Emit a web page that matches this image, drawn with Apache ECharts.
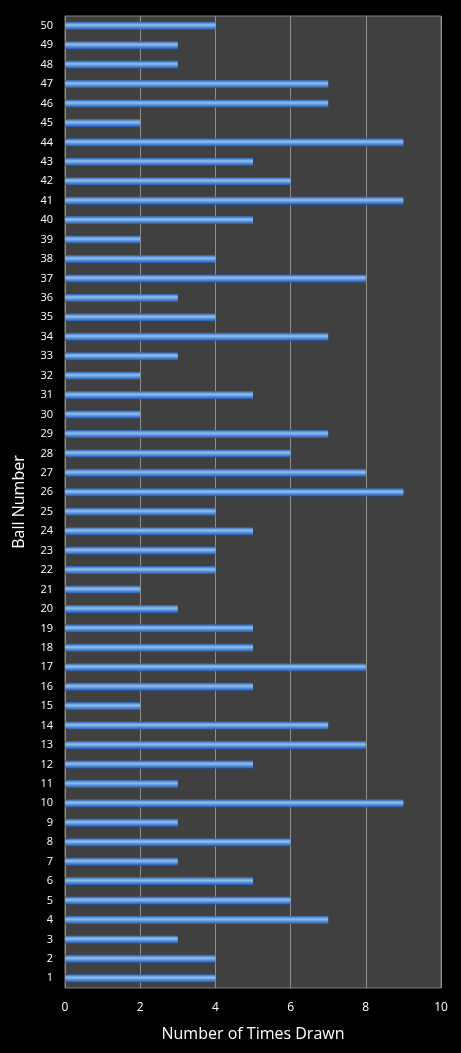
<!DOCTYPE html>
<html>
<head>
<meta charset="UTF-8">
<script src="https://cdn.jsdelivr.net/npm/echarts@6/dist/echarts.min.js"></script>
<style>
  html, body { margin: 0; padding: 0; background: #000; }
  #chart { width: 461px; height: 1053px; }
</style>
</head>
<body>
<div id="chart"></div>
<script>
  // ball numbers 1..50
  const balls = Array.from({ length: 50 }, (_, i) => String(i + 1));
  // times drawn, ball 1 first
  const timesDrawn = [4, 4, 3, 7, 6, 5, 3, 6, 3, 9,
                      3, 5, 8, 7, 2, 5, 8, 5, 5, 3,
                      2, 4, 4, 5, 4, 9, 8, 6, 7, 2,
                      5, 2, 3, 7, 4, 3, 8, 4, 2, 5,
                      9, 6, 5, 9, 2, 7, 7, 3, 3, 4];

  const chart = echarts.init(document.getElementById('chart'));
  chart.setOption({
    backgroundColor: '#000',
    grid: { left: 65, right: 20, top: 16, bottom: 65, backgroundColor: '#404040', show: true, borderColor: '#808080', borderWidth: 1 },
    xAxis: {
      type: 'value', min: 0, max: 10, interval: 2,
      name: 'Number of Times Drawn', nameLocation: 'middle', nameGap: 38,
      nameTextStyle: { color: '#fff', fontSize: 16, fontFamily: 'Open Sans' },
      axisLabel: { color: '#fff', fontSize: 12, fontFamily: 'Open Sans', margin: 14 },
      axisLine: { show: false }, axisTick: { show: false },
      splitLine: { lineStyle: { color: '#909090', width: 1 } }
    },
    yAxis: {
      type: 'category', data: balls,
      name: 'Ball Number', nameLocation: 'middle', nameGap: 38,
      nameTextStyle: { color: '#fff', fontSize: 16, fontFamily: 'Open Sans' },
      axisLabel: { color: '#fff', fontSize: 11, fontFamily: 'Open Sans', margin: 12, interval: 0 },
      axisLine: { show: false }, axisTick: { show: false }
    },
    series: [{
      type: 'bar', data: timesDrawn, barWidth: 8,
      itemStyle: {
        color: new echarts.graphic.LinearGradient(0, 0, 0, 1, [
          { offset: 0, color: '#2a5fa8' },
          { offset: 0.4, color: '#8fc0f5' },
          { offset: 1, color: '#1f58b0' }
        ])
      }
    }]
  });
</script>
</body>
</html>
